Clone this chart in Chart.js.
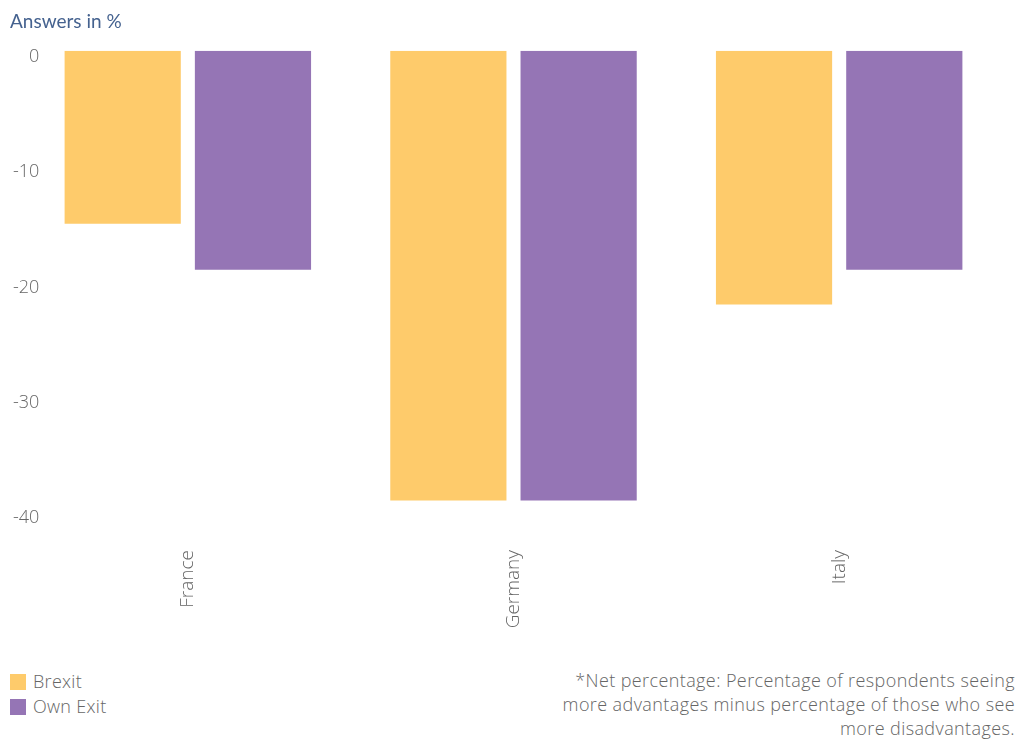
<!DOCTYPE html>
<html>
<head>
<meta charset="utf-8">
<script src="https://cdn.jsdelivr.net/npm/chart.js@4/dist/chart.umd.min.js"></script>
<style>
  body { margin: 0; background: #fff; font-family: "Open Sans", sans-serif; }
  #wrap { position: relative; width: 1019px; height: 740px; }
  #box { position: absolute; left: 0; top: 0; width: 1019px; height: 660px; }
  #legend { position: absolute; left: 10px; top: 669px; color: #666; font-size: 18px; font-weight: 300; letter-spacing: 0.3px; }
  #legend div { height: 25px; line-height: 24px; }
  #legend span { display: inline-block; width: 16px; height: 16px; vertical-align: -2px; margin-right: 7px; }
  #note { position: absolute; right: 4px; top: 668px; text-align: right; color: #666; font-size: 18px; font-weight: 300; line-height: 24px; letter-spacing: 0.4px; }
</style>
</head>
<body>
<div id="wrap">
  <div id="box"><canvas id="myChart"></canvas></div>
  <div id="legend"></div>
  <div id="note">*Net percentage: Percentage of respondents seeing<br>more advantages minus percentage of those who see<br>more disadvantages.</div>
</div>
<script>
// Script for chart.
const countries = ["France", "Germany", "Italy"];
const brexit = [-15, -39, -22];
const ownExit = [-19, -39, -19];
const yTicks = [0, -10, -20, -30, -40];

var ctx = document.getElementById("myChart");

var myChart = new Chart(ctx, {
  type: "bar",
  data: {
    labels: countries,
    datasets: [
      { label: "Brexit", data: brexit, backgroundColor: "#FECB6B" },
      { label: "Own Exit", data: ownExit, backgroundColor: "#9575B5" },
    ],
  },
  options: {
    responsive: true,
    maintainAspectRatio: false,
    animation: false,
    layout: { padding: { left: 10, right: 17, top: 0, bottom: 0 } },
    datasets: { bar: { barPercentage: 0.892, categoryPercentage: 0.8 } },
    plugins: {
      legend: { display: false },
      tooltip: { enabled: false },
      title: {
        display: true,
        text: "Answers in %",
        align: "start",
        color: "#45628F",
        font: { family: "Lato", size: 19, weight: "normal" },
        padding: { top: 10, bottom: 18 },
      },
    },
    scales: {
      x: {
        grid: { display: false, drawTicks: false },
        border: { display: false },
        ticks: {
          color: "#666",
          font: { family: "'Open Sans'", size: 19, weight: "300" },
          minRotation: 90,
          maxRotation: 90,
          padding: 38,
        },
        afterFit: function (scale) {
          scale.height = 148;
        },
      },
      y: {
        min: -40,
        max: 0,
        grid: { display: false, drawTicks: false },
        border: { display: false },
        afterBuildTicks: function (scale) {
          scale.ticks = yTicks.map((v) => ({ value: v }));
        },
        ticks: {
          color: "#666",
          font: { family: "'Open Sans'", size: 18, weight: "300" },
          mirror: true,
          crossAlign: "far",
          padding: -12,
          labelOffset: 6,
        },
        afterFit: function (scale) {
          scale.width = 15;
        },
      },
    },
  },
});

// legend built from the datasets
var legend = document.getElementById("legend");
myChart.data.datasets.forEach((ds) => {
  var row = document.createElement("div");
  row.innerHTML = '<span style="background:' + ds.backgroundColor + '"></span>' + ds.label;
  legend.appendChild(row);
});
</script>
</body>
</html>
